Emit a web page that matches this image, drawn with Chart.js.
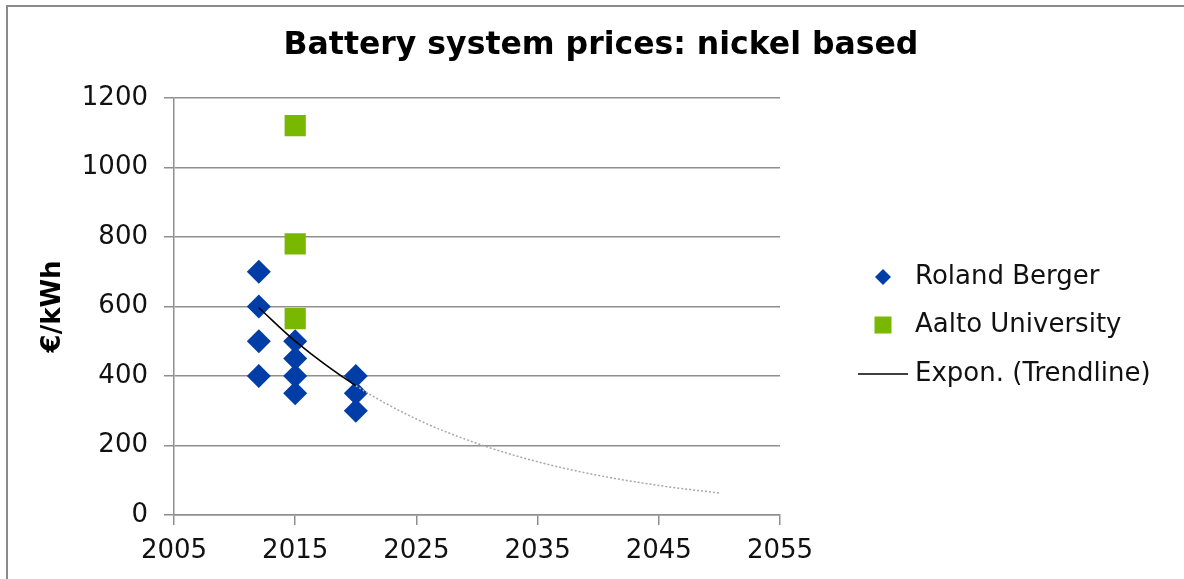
<!DOCTYPE html>
<html>
<head>
<meta charset="utf-8">
<title>Battery system prices: nickel based</title>
<script src="https://cdn.jsdelivr.net/npm/chart.js@4.4.1/dist/chart.umd.min.js"></script>
<style>
  html, body { margin: 0; padding: 0; background: #ffffff; }
  #wrap { width: 1184px; height: 579px; }
</style>
</head>
<body>
<div id="wrap"><canvas id="chart" width="1184" height="579"></canvas></div>
<script>
// Roland Berger estimates (year, €/kWh)
const rolandYears  = [2012, 2012, 2012, 2012, 2015, 2015, 2015, 2015, 2020, 2020, 2020];
const rolandPrices = [700, 600, 500, 400, 500, 450, 400, 350, 400, 350, 300];

// Aalto University estimates
const aaltoYears  = [2015, 2015, 2015];
const aaltoPrices = [1120, 780, 565];

// Exponential trendline, solid over the data range and dotted as forecast
const trendYears  = [2012, 2015, 2020, 2025, 2030, 2035, 2040, 2045, 2050];
const trendPrices = [596, 500, 372, 276, 206, 153, 114, 85, 63];
const forecastFrom = 2020;

// Axis ticks
const xTicks = [2005, 2015, 2025, 2035, 2045, 2055];
const yTicks = [0, 200, 400, 600, 800, 1000, 1200];

const seriesNames = ['Roland Berger', 'Aalto University', 'Expon. (Trendline)'];
const BLUE = '#003DA6';
const GREEN = '#78B800';
const GRID = '#8f8f8f';
const FONT = '"DejaVu Sans", Verdana, sans-serif';

const toPoints = (xs, ys) => xs.map((x, i) => ({ x: x, y: ys[i] }));

// Outer frame and white background
const framePlugin = {
  id: 'frame',
  beforeDraw(chart) {
    const ctx = chart.ctx;
    ctx.save();
    ctx.fillStyle = '#ffffff';
    ctx.fillRect(0, 0, chart.width, chart.height);
    ctx.strokeStyle = '#8a8a8a';
    ctx.lineWidth = 2;
    ctx.beginPath();
    ctx.moveTo(7, chart.height);
    ctx.lineTo(7, 6);
    ctx.lineTo(chart.width, 6);
    ctx.stroke();
    ctx.restore();
  }
};

// Legend drawn in the space reserved on the right
const sideLegend = {
  id: 'sideLegend',
  afterDraw(chart) {
    const ctx = chart.ctx;
    const markX = 883, textX = 915, rowY = [277, 325, 374];
    ctx.save();
    chart.data.datasets.forEach((ds, i) => {
      const y = rowY[i];
      ctx.beginPath();
      if (ds.pointStyle === 'rectRot') {
        const r = 8;
        ctx.moveTo(markX - r, y); ctx.lineTo(markX, y - r);
        ctx.lineTo(markX + r, y); ctx.lineTo(markX, y + r);
        ctx.closePath();
        ctx.fillStyle = ds.backgroundColor; ctx.fill();
      } else if (ds.pointStyle === 'rect') {
        const h = 8.5;
        ctx.rect(markX - h, y - h, 2 * h, 2 * h);
        ctx.fillStyle = ds.backgroundColor; ctx.fill();
      } else {
        ctx.moveTo(markX - 25, y); ctx.lineTo(markX + 25, y);
        ctx.strokeStyle = '#000000'; ctx.lineWidth = 1.5; ctx.stroke();
      }
      ctx.fillStyle = '#111111';
      ctx.font = '26px ' + FONT;
      ctx.textAlign = 'left';
      ctx.textBaseline = 'middle';
      ctx.fillText(ds.label, textX, y);
    });
    ctx.restore();
  }
};

new Chart(document.getElementById('chart'), {
  type: 'scatter',
  data: {
    datasets: [
      {
        label: seriesNames[0],
        data: toPoints(rolandYears, rolandPrices),
        pointStyle: 'rectRot',
        pointRadius: 12,
        pointHoverRadius: 12,
        backgroundColor: BLUE,
        borderColor: BLUE,
        borderWidth: 0,
        order: 2
      },
      {
        label: seriesNames[1],
        data: toPoints(aaltoYears, aaltoPrices),
        pointStyle: 'rect',
        pointRadius: 15,
        pointHoverRadius: 15,
        backgroundColor: GREEN,
        borderColor: GREEN,
        borderWidth: 0,
        order: 3
      },
      {
        label: seriesNames[2],
        type: 'line',
        data: toPoints(trendYears, trendPrices),
        showLine: true,
        fill: false,
        pointRadius: 0,
        borderWidth: 1.5,
        borderColor: '#000000',
        cubicInterpolationMode: 'monotone',
        segment: {
          borderColor: c => c.p0.parsed.x >= forecastFrom ? '#a8a8a8' : '#000000',
          borderDash: c => c.p0.parsed.x >= forecastFrom ? [2, 2] : []
        },
        order: 1
      }
    ]
  },
  options: {
    responsive: false,
    devicePixelRatio: 1,
    animation: false,
    events: [],
    layout: { padding: { left: 18, right: 0, top: 8, bottom: 0 } },
    plugins: {
      legend: { display: false },
      tooltip: { enabled: false },
      title: {
        display: true,
        text: 'Battery system prices: nickel based',
        color: '#000000',
        font: { family: FONT, size: 31.5, weight: 'bold', lineHeight: 1.2 },
        padding: { top: 19, bottom: 33 }
      }
    },
    scales: {
      x: {
        type: 'linear',
        min: xTicks[0],
        max: xTicks[xTicks.length - 1],
        afterBuildTicks: s => { s.ticks = xTicks.map(v => ({ value: v })); },
        afterFit: s => { s.height = 64; },
        grid: { drawOnChartArea: false, drawTicks: true, tickLength: 10, color: GRID, lineWidth: 1.5 },
        border: { display: true, color: GRID, width: 1.5 },
        ticks: {
          padding: 11,
          color: '#111111',
          font: { family: FONT, size: 26 },
          callback: v => String(v)
        }
      },
      y: {
        type: 'linear',
        position: 'left',
        min: yTicks[0],
        max: yTicks[yTicks.length - 1],
        afterBuildTicks: s => { s.ticks = yTicks.map(v => ({ value: v })); },
        afterFit: s => { s.width = 156; },
        grid: { drawOnChartArea: true, drawTicks: true, tickLength: 10, color: GRID, lineWidth: 1.5 },
        border: { display: true, color: GRID, width: 1.5 },
        ticks: {
          padding: 16,
          color: '#111111',
          font: { family: FONT, size: 26 },
          callback: v => String(v)
        },
        title: {
          display: true,
          text: '€/kWh',
          color: '#000000',
          font: { family: FONT, size: 26, weight: 'bold', lineHeight: 1.2 },
          padding: { top: 20, bottom: 0 }
        }
      },
      legendSpace: {
        type: 'linear',
        position: 'right',
        display: true,
        min: 0,
        max: 1,
        afterFit: s => { s.width = 404; },
        grid: { display: false, drawTicks: false },
        border: { display: false },
        ticks: { display: false }
      }
    }
  },
  plugins: [framePlugin, sideLegend]
});
</script>
</body>
</html>
